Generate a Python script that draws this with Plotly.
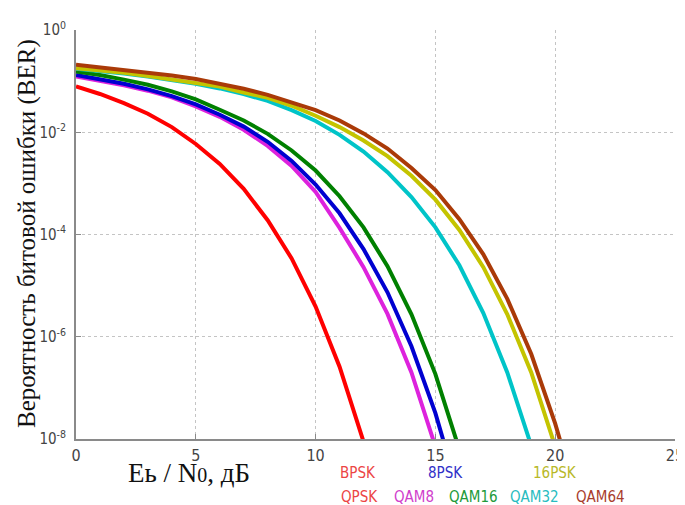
import plotly.graph_objects as go

# Eb/N0 grid (dB)
snr_db = list(range(0, 22))

# BER values (1 dB steps)
ber_bpsk = [7.9e-2, 5.6e-2, 3.7e-2, 2.3e-2, 1.26e-2, 5.9e-3, 2.4e-3, 7.8e-4, 1.9e-4,
            3.4e-5, 3.9e-6, 2.6e-7, 8.9e-9]
ber_qam8 = [0.123, 0.102, 8.3e-2, 6.5e-2, 4.8e-2, 3.2e-2, 2.0e-2, 1.12e-2, 5.4e-3,
            2.2e-3, 6.8e-4, 1.35e-4, 2.3e-5, 2.8e-6, 2.0e-7, 7.1e-9]
ber_8psk = [0.132, 0.110, 8.9e-2, 6.9e-2, 5.1e-2, 3.5e-2, 2.2e-2, 1.29e-2, 6.5e-3,
            2.75e-3, 9.5e-4, 2.6e-4, 5.2e-5, 7.4e-6, 6.5e-7, 3.2e-8, 7.9e-10]
ber_qam16 = [0.155, 0.132, 0.107, 8.5e-2, 6.3e-2, 4.4e-2, 2.75e-2, 1.70e-2, 9.3e-3,
             4.4e-3, 1.78e-3, 5.6e-4, 1.38e-4, 2.4e-5, 2.75e-6, 1.86e-7, 6.2e-9]
ber_qam32 = [0.174, 0.158, 0.141, 0.123, 0.107, 8.9e-2, 7.2e-2, 5.6e-2, 4.1e-2,
             2.7e-2, 1.66e-2, 8.9e-3, 4.2e-3, 1.66e-3, 5.4e-4, 1.38e-4, 2.5e-5,
             2.9e-6, 2.0e-7, 7.4e-9]
ber_16psk = [0.178, 0.162, 0.145, 0.126, 0.107, 9.5e-2, 7.8e-2, 6.0e-2, 4.7e-2,
             3.3e-2, 2.1e-2, 1.26e-2, 6.9e-3, 3.4e-3, 1.41e-3, 4.8e-4, 1.23e-4,
             2.3e-5, 2.75e-6, 2.0e-7, 7.1e-9]
ber_qam64 = [0.209, 0.186, 0.166, 0.148, 0.129, 0.110, 8.9e-2, 7.1e-2, 5.4e-2,
             3.9e-2, 2.7e-2, 1.70e-2, 9.5e-3, 4.8e-3, 2.0e-3, 7.4e-4, 2.0e-4,
             4.1e-5, 5.5e-6, 4.6e-7, 2.0e-8, 5.0e-10]

x_ticks = [0, 5, 10, 15, 20, 25]
y_tickvals = [1, 1e-2, 1e-4, 1e-6, 1e-8]
y_ticktext = ["10<sup>0</sup>", "10<sup>-2</sup>", "10<sup>-4</sup>",
              "10<sup>-6</sup>", "10<sup>-8</sup>"]

series = [
    ("BPSK/QPSK", ber_bpsk, "#ff0000"),
    ("QAM8", ber_qam8, "#dd22dd"),
    ("8PSK", ber_8psk, "#0000d0"),
    ("QAM16", ber_qam16, "#008000"),
    ("QAM32", ber_qam32, "#00c4c8"),
    ("16PSK", ber_16psk, "#c4c400"),
    ("QAM64", ber_qam64, "#aa3a08"),
]

# the page body has an 8px margin; the figure fills the rest of the window
OFF = 8
W, H = 685 - OFF, 505 - OFF
L, R, T, B = 76 - OFF, 10, 30 - OFF, 66
PW, PH = W - L - R, H - T - B


def px(xp, yp):
    """page pixel -> paper coords"""
    return (xp - OFF - L) / PW, (H - B - (yp - OFF)) / PH


fig = go.Figure()
for name, vals, col in series:
    fig.add_trace(go.Scatter(x=snr_db[:len(vals)], y=vals, mode="lines", name=name,
                             line=dict(color=col, width=4), showlegend=False))

narrow = "DejaVu Sans Condensed, Liberation Sans Narrow, DejaVu Sans, sans-serif"
serif = "Liberation Serif, Times New Roman, serif"

fig.update_layout(
    width=W, height=H,
    margin=dict(l=L, r=R, t=T, b=B),
    paper_bgcolor="white", plot_bgcolor="white",
    xaxis=dict(range=[0, 25], tickvals=x_ticks, showgrid=True, griddash="dot",
               gridcolor="#c4c4c4", gridwidth=1, zeroline=False, automargin=False,
               showline=True, linecolor="#8a8a8a", linewidth=2,
               ticks="inside", ticklen=5, tickcolor="#8a8a8a",
               tickfont=dict(family=narrow, size=16, color="#444444"),
               ticklabelstandoff=1),
    yaxis=dict(type="log", range=[-8, 0], tickvals=y_tickvals, ticktext=y_ticktext,
               showgrid=True, griddash="dot", gridcolor="#c4c4c4", gridwidth=1,
               zeroline=False, automargin=False,
               showline=True, linecolor="#8a8a8a", linewidth=2,
               ticks="inside", ticklen=5, tickcolor="#8a8a8a",
               tickfont=dict(family=narrow, size=15, color="#444444"),
               ticklabelstandoff=5),
)

ann = []
xx, yy = px(27, 234)
ann.append(dict(x=xx, y=yy, xref="paper", yref="paper", showarrow=False,
                text="Вероятность битовой ошибки (BER)", textangle=-90,
                font=dict(family=serif, size=25, color="#111111"),
                xanchor="center", yanchor="middle"))
xx, yy = px(189, 473)
ann.append(dict(x=xx, y=yy, xref="paper", yref="paper", showarrow=False,
                text='Eь / N<span style="font-size:20px">0</span>, дБ',
                font=dict(family=serif, size=27, color="#111111"),
                xanchor="center", yanchor="middle"))

legend_items = [
    ("BPSK", "#ec4444", 358, 473),
    ("8PSK", "#3030c8", 445, 473),
    ("16PSK", "#b8b828", 555, 473),
    ("QPSK", "#ec4444", 359, 497),
    ("QAM8", "#d040cc", 414, 497),
    ("QAM16", "#229a3a", 473, 497),
    ("QAM32", "#28bcc0", 534, 497),
    ("QAM64", "#a83c2c", 600, 497),
]
for txt, col, cx, cy in legend_items:
    xx, yy = px(cx, cy)
    ann.append(dict(x=xx, y=yy, xref="paper", yref="paper", showarrow=False,
                    text=txt, font=dict(family=narrow, size=15, color=col),
                    xanchor="center", yanchor="middle"))

fig.update_layout(annotations=ann)
fig.write_html("out.html")
